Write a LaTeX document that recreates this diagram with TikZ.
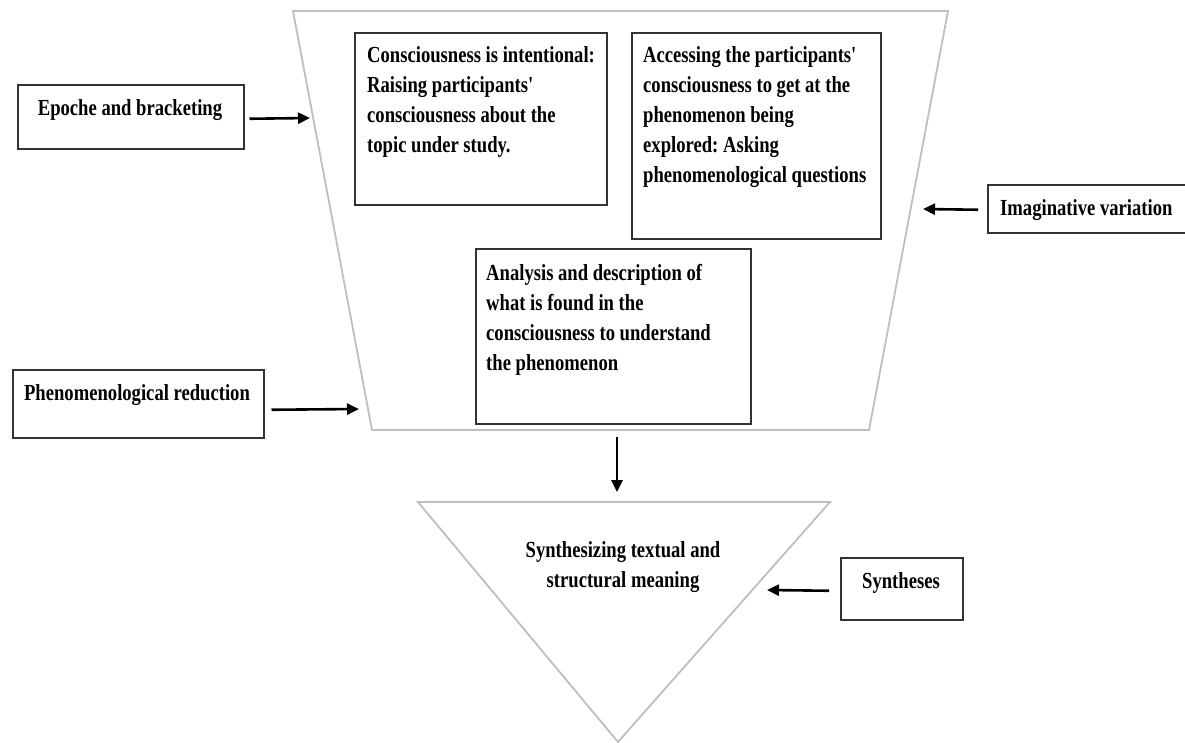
\documentclass[tikz,border=0pt]{standalone}
\usepackage{fontspec}
\setmainfont{Liberation Serif}[FakeStretch=0.81]
\frenchspacing
\usetikzlibrary{arrows.meta,positioning}

\begin{document}
\begin{tikzpicture}[x=1pt,y=-1pt,
  box/.style={draw=black!80,line width=1.5pt,anchor=north west,inner sep=0pt},
  lbl/.style={font=\bfseries\fontsize{23}{30}\selectfont,inner sep=0pt},
  arr/.style={line width=2.6pt,-{Triangle[length=12pt,width=11pt]}},
  funnel/.style={draw=black!25,line width=1.8pt}]
\useasboundingbox (0,0) rectangle (1185,742);
% the funnel and the triangle
\draw[funnel] (293,11) -- (948,11) -- (869,430) -- (372,430) -- cycle;
\draw[funnel] (418,502) -- (830,502) -- (618,742) -- cycle;
% boxes in the funnel
\node[box,minimum width=252,minimum height=172] (intent) at (354,32) {};
\node[box,minimum width=249,minimum height=206] (access) at (631,32) {};
\node[box,minimum width=275,minimum height=175] (analysis) at (475,248) {};
\node[lbl,anchor=base west,text width=236,align=flush left] (intent-txt) at (367,62)
  {Consciousness is intentional:\\ Raising participants\textquotesingle\\ consciousness about the\\ topic under study.};
\node[lbl,anchor=base west,text width=236,align=flush left] (access-txt) at (643,62)
  {Accessing the participants\textquotesingle\\ consciousness to get at the\\ phenomenon being\\ explored: Asking\\ phenomenological questions};
\node[lbl,anchor=base west,text width=260,align=flush left] (analysis-txt) at (486,280)
  {Analysis and description of\\ what is found in the\\ consciousness to understand\\ the phenomenon};
\node[lbl,anchor=base,text width=260,align=flush center] (meaning) at (623,557)
  {Synthesizing textual and\\ structural meaning};
% boxes outside
\node[box,minimum width=226,minimum height=64] (epoche) at (17,84) {};
\node[lbl,anchor=base] (epoche-txt) at (130,115) {Epoche and bracketing};
\node[box,minimum width=251,minimum height=68] (reduction) at (12,369) {};
\node[lbl,anchor=base] (reduction-txt) at (137,400) {Phenomenological reduction};
\node[box,minimum width=215,minimum height=48] (imagin) at (987,184) {};
\node[lbl,anchor=base west] (imagin-txt) at (1000,215) {Imaginative variation};
\node[box,minimum width=122,minimum height=62] (synth) at (840,557) {};
\node[lbl,anchor=base] (synth-txt) at (901,588) {Syntheses};
% arrow ends
\coordinate (epoche-in) at (310,118);
\coordinate (reduction-in) at (359,409);
\coordinate (imagin-in) at (923,209);
\coordinate (synth-in) at (767,590);
\coordinate (funnel-out) at (617,437);
\coordinate (synth-top) at (617,492);
\draw[arr] ([xshift=5pt,yshift=-2pt]epoche.east) -- (epoche-in);
\draw[arr] ([xshift=7pt,yshift=-6pt]reduction.east) -- (reduction-in);
\draw[arr] ([xshift=-9pt,yshift=-1pt]imagin.west) -- (imagin-in);
\draw[arr] ([xshift=-11pt,yshift=-2pt]synth.west) -- (synth-in);
\draw[arr] (funnel-out) -- (synth-top);
\end{tikzpicture}
\end{document}
